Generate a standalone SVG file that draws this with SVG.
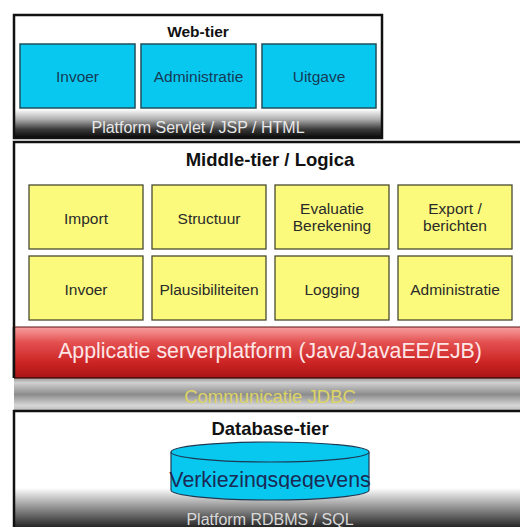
<svg xmlns="http://www.w3.org/2000/svg" width="520" height="527" viewBox="0 0 520 527">
<defs>
<linearGradient id="gWeb" x1="0" y1="0" x2="0" y2="1">
<stop offset="0" stop-color="#ffffff"/><stop offset="0.35" stop-color="#b0b0b0"/><stop offset="0.7" stop-color="#3a3a3a"/><stop offset="1" stop-color="#080808"/>
</linearGradient>
<linearGradient id="gRed" x1="0" y1="0" x2="0" y2="1">
<stop offset="0" stop-color="#f7a0a0"/><stop offset="0.3" stop-color="#e45050"/><stop offset="0.7" stop-color="#cc2424"/><stop offset="1" stop-color="#a81414"/>
</linearGradient>
<linearGradient id="gGray" x1="0" y1="0" x2="0" y2="1">
<stop offset="0" stop-color="#a4a4a4"/><stop offset="0.12" stop-color="#d0d0d0"/><stop offset="0.5" stop-color="#8c8c8c"/><stop offset="0.85" stop-color="#d6d6d6"/><stop offset="1" stop-color="#c0c0c0"/>
</linearGradient>
<linearGradient id="gDb" x1="0" y1="0" x2="0" y2="1">
<stop offset="0" stop-color="#ffffff"/><stop offset="0.4" stop-color="#a8a8a8"/><stop offset="1" stop-color="#262626"/>
</linearGradient>
<clipPath id="cylClip"><rect x="150" y="440" width="240" height="49"/></clipPath>
<style>
.frame{fill:none;stroke:#111;stroke-width:2.5}
.title{font-family:"Liberation Sans",Arial,sans-serif;font-weight:bold;fill:#111;text-anchor:middle}
.cyan{fill:#08c8f0;stroke:#1d4f5c;stroke-width:1.5}
.yel{fill:#fbfa7c;stroke:#4a4a30;stroke-width:1.3}
.lbl{font-family:"Liberation Sans",Arial,sans-serif;font-size:15.5px;text-anchor:middle}
.lc{fill:#173a55}
.ly{fill:#2a2a2a}
.plat{font-family:"Liberation Sans",Arial,sans-serif;font-size:16px;fill:#e8e8e8;text-anchor:middle}
</style>
</defs>
<rect width="520" height="527" fill="#ffffff"/>

<g id="web-tier">
<rect x="14" y="15" width="368" height="123" fill="#ffffff"/>
<rect x="14" y="109" width="368" height="29" fill="url(#gWeb)"/>
<rect x="14" y="15" width="368" height="123" class="frame"/>
<text x="198" y="37" class="title" font-size="15.5">Web-tier</text>
<text x="198" y="133" class="plat">Platform Servlet / JSP / HTML</text>
</g>
<g id="web-invoer"><rect x="20" y="44" width="115" height="64" class="cyan"/><text x="77.5" y="82" class="lbl lc">Invoer</text></g>
<g id="web-administratie"><rect x="141" y="44" width="115" height="64" class="cyan"/><text x="198.5" y="82" class="lbl lc">Administratie</text></g>
<g id="web-uitgave"><rect x="262" y="44" width="114" height="64" class="cyan"/><text x="319" y="82" class="lbl lc">Uitgave</text></g>

<g id="middle-tier">
<rect x="14" y="142" width="506" height="236" fill="#ffffff"/>
<path d="M14 378 V142 H521" class="frame"/>
<text x="270" y="166" class="title" font-size="18.5">Middle-tier / Logica</text>
</g>
<g id="m-import"><rect x="29" y="185" width="114" height="64" class="yel"/><text x="86" y="224" class="lbl ly">Import</text></g>
<g id="m-structuur"><rect x="152" y="185" width="114" height="64" class="yel"/><text x="209" y="224" class="lbl ly">Structuur</text></g>
<g id="m-evaluatie"><rect x="275" y="185" width="114" height="64" class="yel"/><text x="332" y="214" class="lbl ly">Evaluatie</text><text x="332" y="231" class="lbl ly">Berekening</text></g>
<g id="m-export"><rect x="398" y="185" width="114" height="64" class="yel"/><text x="455" y="214" class="lbl ly">Export /</text><text x="455" y="231" class="lbl ly">berichten</text></g>
<g id="m-invoer"><rect x="29" y="256" width="114" height="64" class="yel"/><text x="86" y="295" class="lbl ly">Invoer</text></g>
<g id="m-plausibiliteiten"><rect x="152" y="256" width="114" height="64" class="yel"/><text x="209" y="295" class="lbl ly">Plausibiliteiten</text></g>
<g id="m-logging"><rect x="275" y="256" width="114" height="64" class="yel"/><text x="332" y="295" class="lbl ly">Logging</text></g>
<g id="m-administratie"><rect x="398" y="256" width="114" height="64" class="yel"/><text x="455" y="295" class="lbl ly">Administratie</text></g>

<g id="applicatie-server">
<rect x="14" y="327" width="506" height="51" fill="url(#gRed)"/>
<path d="M14 327 H520" stroke="#5a1010" stroke-width="1.2"/>
<path d="M14 378 H520" stroke="#3a0a0a" stroke-width="1.5"/>
<path d="M14 327 V378" class="frame"/>
<text x="270" y="358" font-family="'Liberation Sans',Arial,sans-serif" font-size="21.3" fill="#fde6e6" text-anchor="middle">Applicatie serverplatform (Java/JavaEE/EJB)</text>
</g>

<g id="communicatie">
<rect x="14" y="379" width="506" height="31" fill="url(#gGray)"/>
<text x="270" y="403" font-family="'Liberation Sans',Arial,sans-serif" font-size="18.5" fill="#ddd466" text-anchor="middle">Communicatie JDBC</text>
</g>

<g id="database-tier">
<rect x="14" y="411" width="506" height="116" fill="#ffffff"/>
<rect x="14" y="488" width="506" height="39" fill="url(#gDb)"/>
<path d="M14 527 V411 H521" class="frame"/>
<text x="270" y="435" class="title" font-size="18.5">Database-tier</text>
<text x="270" y="525" font-family="'Liberation Sans',Arial,sans-serif" font-size="16" fill="#d8d8d8" text-anchor="middle">Platform RDBMS / SQL</text>
</g>
<g id="verkiezingsgegevens">
<path d="M171 452 V490 A99 10 0 0 0 369 490 V452" fill="#08c8f0" stroke="#1d3a55" stroke-width="1.2"/>
<ellipse cx="270" cy="452" rx="99" ry="10" fill="#08c8f0" stroke="#1d3a55" stroke-width="1.2"/>
<text x="270" y="487" clip-path="url(#cylClip)" font-family="'Liberation Sans',Arial,sans-serif" font-size="21.3" fill="#1a2a55" text-anchor="middle">Verkiezingsgegevens</text>
</g>
</svg>
